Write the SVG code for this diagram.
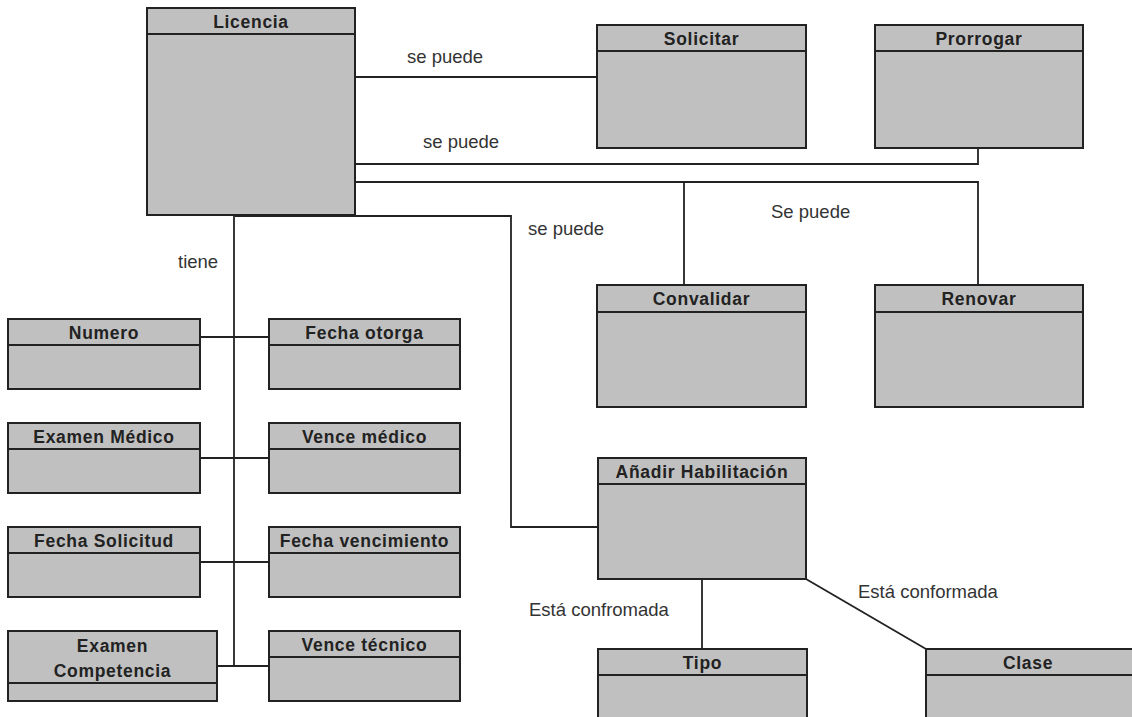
<svg xmlns="http://www.w3.org/2000/svg" width="1132" height="717" viewBox="0 0 1132 717">
  <style>
    .box { fill: #c0c0c0; stroke: #222; stroke-width: 2; }
    .div { stroke: #222; stroke-width: 2; }
    .title { font-family: "Liberation Sans", Arial, sans-serif; font-weight: bold; font-size: 17.5px; letter-spacing: 0.7px; fill: #222; text-anchor: middle; }
    .lbl { font-family: "Liberation Sans", Arial, sans-serif; font-size: 18.5px; fill: #333; }
    .conn { fill: none; stroke: #222; stroke-width: 1.8; }
  </style>
  <rect width="1132" height="717" fill="#ffffff"/>

  <!-- connectors -->
  <g id="connectors" class="conn">
    <path d="M355,77 H597"/>
    <path d="M355,164 H978 V148"/>
    <path d="M355,182 H978 V285"/>
    <path d="M684,182 V285"/>
    <path d="M235,216 H511 V527 H598"/>
    <path d="M234,215 V666"/>
    <path d="M200,337 H269"/>
    <path d="M200,458 H269"/>
    <path d="M200,562 H269"/>
    <path d="M217,666 H269"/>
    <path d="M702,579 V649"/>
    <path d="M806,579 L926,649"/>
  </g>

  <!-- connector labels -->
  <g id="labels" class="lbl">
    <text x="407" y="63">se puede</text>
    <text x="423" y="148">se puede</text>
    <text x="528" y="235">se puede</text>
    <text x="771" y="218">Se puede</text>
    <text x="178" y="268">tiene</text>
    <text x="529" y="616">Está confromada</text>
    <text x="858" y="598">Está conformada</text>
  </g>

  <g id="licencia">
    <rect class="box" x="147" y="8" width="208" height="207"/>
    <line class="div" x1="147" y1="34" x2="355" y2="34"/>
    <text class="title" x="251" y="28">Licencia</text>
  </g>
  <g id="solicitar">
    <rect class="box" x="597" y="25" width="209" height="123"/>
    <line class="div" x1="597" y1="51" x2="806" y2="51"/>
    <text class="title" x="701.5" y="45">Solicitar</text>
  </g>
  <g id="prorrogar">
    <rect class="box" x="875" y="25" width="208" height="123"/>
    <line class="div" x1="875" y1="51" x2="1083" y2="51"/>
    <text class="title" x="979" y="45">Prorrogar</text>
  </g>
  <g id="convalidar">
    <rect class="box" x="597" y="285" width="209" height="122"/>
    <line class="div" x1="597" y1="312" x2="806" y2="312"/>
    <text class="title" x="701.5" y="305">Convalidar</text>
  </g>
  <g id="renovar">
    <rect class="box" x="875" y="285" width="208" height="122"/>
    <line class="div" x1="875" y1="312" x2="1083" y2="312"/>
    <text class="title" x="979" y="305">Renovar</text>
  </g>

  <g id="numero">
    <rect class="box" x="8" y="319" width="192" height="70"/>
    <line class="div" x1="8" y1="345" x2="200" y2="345"/>
    <text class="title" x="104" y="339">Numero</text>
  </g>
  <g id="fecha-otorga">
    <rect class="box" x="269" y="319" width="191" height="70"/>
    <line class="div" x1="269" y1="345" x2="460" y2="345"/>
    <text class="title" x="364.5" y="339">Fecha otorga</text>
  </g>
  <g id="examen-medico">
    <rect class="box" x="8" y="423" width="192" height="70"/>
    <line class="div" x1="8" y1="449" x2="200" y2="449"/>
    <text class="title" x="104" y="443">Examen Médico</text>
  </g>
  <g id="vence-medico">
    <rect class="box" x="269" y="423" width="191" height="70"/>
    <line class="div" x1="269" y1="449" x2="460" y2="449"/>
    <text class="title" x="364.5" y="443">Vence médico</text>
  </g>
  <g id="fecha-solicitud">
    <rect class="box" x="8" y="527" width="192" height="70"/>
    <line class="div" x1="8" y1="553" x2="200" y2="553"/>
    <text class="title" x="104" y="547">Fecha Solicitud</text>
  </g>
  <g id="fecha-vencimiento">
    <rect class="box" x="269" y="527" width="191" height="70"/>
    <line class="div" x1="269" y1="553" x2="460" y2="553"/>
    <text class="title" x="364.5" y="547">Fecha vencimiento</text>
  </g>
  <g id="examen-competencia">
    <rect class="box" x="8" y="631" width="209" height="70"/>
    <line class="div" x1="8" y1="683" x2="217" y2="683"/>
    <text class="title" x="112.5" y="652">Examen</text>
    <text class="title" x="112.5" y="677">Competencia</text>
  </g>
  <g id="vence-tecnico">
    <rect class="box" x="269" y="631" width="191" height="70"/>
    <line class="div" x1="269" y1="657" x2="460" y2="657"/>
    <text class="title" x="364.5" y="651">Vence técnico</text>
  </g>

  <g id="anadir-habilitacion">
    <rect class="box" x="598" y="458" width="208" height="121"/>
    <line class="div" x1="598" y1="484" x2="806" y2="484"/>
    <text class="title" x="702" y="478">Añadir Habilitación</text>
  </g>
  <g id="tipo">
    <rect class="box" x="598" y="649" width="209" height="80"/>
    <line class="div" x1="598" y1="675" x2="807" y2="675"/>
    <text class="title" x="702.5" y="669">Tipo</text>
  </g>
  <g id="clase">
    <rect class="box" x="926" y="649" width="220" height="80"/>
    <line class="div" x1="926" y1="675" x2="1146" y2="675"/>
    <text class="title" x="1028" y="669">Clase</text>
  </g>
</svg>
